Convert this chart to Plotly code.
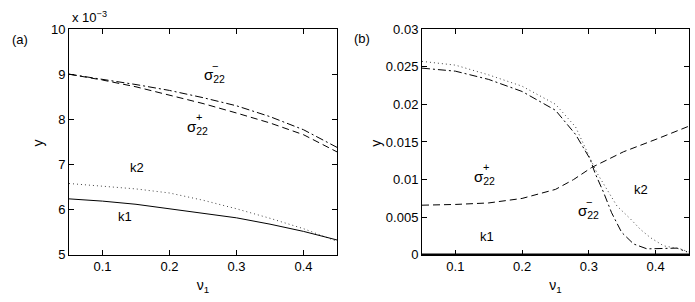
import plotly.graph_objects as go

# ---------------- data: panel (a)  (y values in units of 1e-3) ----------------
nu_a = [0.05, 0.10, 0.15, 0.20, 0.25, 0.30, 0.35, 0.40, 0.45]
sigma_minus_a = [9.00, 8.89, 8.77, 8.64, 8.48, 8.30, 8.06, 7.77, 7.38]
sigma_plus_a = [9.00, 8.87, 8.72, 8.54, 8.35, 8.14, 7.92, 7.66, 7.28]
k2_a = [6.58, 6.52, 6.46, 6.37, 6.21, 6.02, 5.81, 5.58, 5.30]
k1_a = [6.24, 6.19, 6.12, 6.02, 5.93, 5.82, 5.68, 5.52, 5.33]

# ---------------- data: panel (b) ----------------
nu_b_minus = [0.05, 0.10, 0.15, 0.20, 0.25, 0.28, 0.302, 0.309, 0.322, 0.334,
              0.349, 0.367, 0.387, 0.402, 0.432, 0.447]
sigma_minus_b = [0.0248, 0.0244, 0.0233, 0.0217, 0.0192, 0.0160, 0.0127, 0.0109,
                 0.0083, 0.0056, 0.0030, 0.00145, 0.0008, 0.0008, 0.0009, 0.0004]

nu_b_k2 = [0.05, 0.10, 0.15, 0.20, 0.25, 0.28, 0.302, 0.312, 0.327, 0.342,
           0.362, 0.377, 0.392, 0.412, 0.437, 0.449]
k2_b = [0.0257, 0.0252, 0.0239, 0.0224, 0.0200, 0.0170, 0.0128, 0.0109, 0.0087,
        0.0065, 0.0048, 0.0034, 0.0023, 0.0012, 0.0008, 0.0004]

nu_b_plus = [0.05, 0.10, 0.15, 0.20, 0.25, 0.277, 0.304, 0.352, 0.402, 0.45]
sigma_plus_b = [0.0066, 0.0067, 0.0069, 0.0075, 0.0087, 0.0100, 0.0116, 0.0137,
                0.0154, 0.0171]

nu_b_k1 = [0.05, 0.45]
k1_b = [0.0, 0.0]

# ---------------- figure ----------------
fig = go.Figure()

DASH = "7px,4px"
DASHDOT = "8px,3px,2px,3px"
DOT = "1px,3px"

def add(x, y, dash, xa, ya, width=1, color="black"):
    fig.add_trace(go.Scatter(x=x, y=y, mode="lines", xaxis=xa, yaxis=ya,
                             line=dict(color=color, width=width, dash=dash),
                             showlegend=False, hoverinfo="skip", cliponaxis=True))

add(nu_a, sigma_minus_a, DASHDOT, "x", "y")
add(nu_a, sigma_plus_a, DASH, "x", "y")
add(nu_a, k2_a, DOT, "x", "y", color="#444444")
add(nu_a, k1_a, "solid", "x", "y")

add(nu_b_minus, sigma_minus_b, DASHDOT, "x2", "y2")
add(nu_b_k2, k2_b, DOT, "x2", "y2", color="#444444")
add(nu_b_plus, sigma_plus_b, DASH, "x2", "y2")
add(nu_b_k1, k1_b, "solid", "x2", "y2", width=3)

FONT = "Liberation Sans"
FS = 13
ax_common = dict(showline=True, linecolor="black", linewidth=1, mirror="ticks",
                 ticks="inside", ticklen=5, tickcolor="black", showgrid=False,
                 zeroline=False, automargin=False,
                 tickfont=dict(family=FONT, size=FS, color="black"))

y_dom = [0.156, 0.904]
fig.update_layout(
    template="none",
    width=695, height=302,
    margin=dict(l=0, r=0, t=0, b=0, pad=0),
    paper_bgcolor="white", plot_bgcolor="white",
    font=dict(family=FONT, size=FS, color="black"),
    xaxis=dict(domain=[0.0993, 0.4849], range=[0.05, 0.45],
               tickvals=[0.1, 0.2, 0.3, 0.4], ticktext=["0.1", "0.2", "0.3", "0.4"],
               title=dict(text="ν<sub>1</sub>", standoff=6, font=dict(family=FONT, size=14)),
               anchor="y", **ax_common),
    yaxis=dict(domain=y_dom, range=[5, 10], tickvals=[5, 6, 7, 8, 9, 10],
               anchor="x", **ax_common),
    xaxis2=dict(domain=[0.6072, 0.9914], range=[0.05, 0.45],
                tickvals=[0.1, 0.2, 0.3, 0.4], ticktext=["0.1", "0.2", "0.3", "0.4"],
                title=dict(text="ν<sub>1</sub>", standoff=6, font=dict(family=FONT, size=14)),
                anchor="y2", **ax_common),
    yaxis2=dict(domain=y_dom, range=[0, 0.03],
                tickvals=[0, 0.005, 0.01, 0.015, 0.02, 0.025, 0.03],
                ticktext=["0", "0.005", "0.01", "0.015", "0.02", "0.025", "0.03"],
                anchor="x2", **ax_common),
)

def txt(x, y, text, xref, yref, size=FS, xanchor="center", yanchor="middle", angle=0):
    fig.add_annotation(x=x, y=y, xref=xref, yref=yref, text=text, showarrow=False,
                       font=dict(family=FONT, size=size, color="black"),
                       xanchor=xanchor, yanchor=yanchor, textangle=angle)

def sigma(x, y, sign, xref, yref):
    # sigma with stacked subscript "22" and superscript sign
    txt(x, y, "σ<sub>22</sub>", xref, yref, size=15)
    fig.add_annotation(x=x, y=y, xref=xref, yref=yref, text=sign, showarrow=False,
                       font=dict(family=FONT, size=11, color="black"),
                       xshift=1, yshift=10)

# y-axis titles
txt(0.054, 0.527, "y", "paper", "paper", size=14, angle=-90)
txt(0.541, 0.527, "y", "paper", "paper", size=14, angle=-90)

# panel (a) labels
sigma(0.267, 8.96, "−", "x", "y")
sigma(0.242, 7.83, "+", "x", "y")
txt(0.152, 6.93, "k2", "x", "y")
txt(0.134, 5.85, "k1", "x", "y")
txt(0.029, 0.868, "(a)", "paper", "paper")
txt(0.100, 0.944, "x 10<sup>−3</sup>", "paper", "paper", xanchor="left")

# panel (b) labels
sigma(0.144, 0.0103, "+", "x2", "y2")
sigma(0.299, 0.0057, "−", "x2", "y2")
txt(0.378, 0.0087, "k2", "x2", "y2")
txt(0.147, 0.0024, "k1", "x2", "y2")
txt(0.521, 0.874, "(b)", "paper", "paper")

fig.write_html("out.html",
               config={"displayModeBar": False},
               post_script="document.body.style.margin='0';"
                           "document.body.style.overflow='hidden';")
